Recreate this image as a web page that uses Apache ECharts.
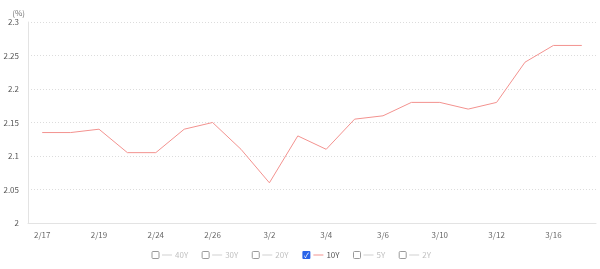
<!DOCTYPE html>
<html>
<head>
<meta charset="utf-8">
<style>html,body{margin:0;padding:0;background:#fff}#c{width:600px;height:269px}</style>
<script src="https://cdn.jsdelivr.net/npm/echarts@6/dist/echarts.min.js"></script>
</head>
<body>
<div id="c"></div>
<script>
const categories = ['2/17','2/18','2/19','2/20','2/24','2/25','2/26','2/27','3/2','3/3','3/4','3/5','3/6','3/9','3/10','3/11','3/12','3/13','3/16','3/17'];
const yield10Y = [2.135,2.135,2.14,2.105,2.105,2.14,2.15,2.11,2.06,2.13,2.11,2.155,2.16,2.18,2.18,2.17,2.18,2.24,2.265,2.265];
const legendNames = ['40Y','30Y','20Y','10Y','5Y','2Y'];
const selectedNames = ['10Y'];
const yTicks = {min: 2, max: 2.3, interval: 0.05};

const FONT = '"Noto Sans CJK JP", "Noto Sans", sans-serif';
const chart = echarts.init(document.getElementById('c'));
const series = legendNames.map(n => ({
  name: n,
  type: 'line',
  data: n === '10Y' ? yield10Y : [],
  symbol: 'none',
  lineStyle: {width: 1, color: '#f3928f'},
  itemStyle: {color: '#f3928f'}
}));
const selected = {};
legendNames.forEach(n => selected[n] = selectedNames.includes(n));

chart.setOption({
  animation: false,
  textStyle: {fontFamily: FONT},
  grid: {left: 28, right: 4, top: 22, bottom: 46, containLabel: false},
  legend: {
    data: legendNames,
    selected: selected,
    icon: 'none',
    itemWidth: 0,
    itemHeight: 8,
    itemGap: 9,
    left: 142,
    top: 246,
    inactiveColor: '#c8c8c8',
    textStyle: {fontSize: 8, color: '#555', fontFamily: FONT,
      rich: {
        box: {width: 7, height: 7, borderColor: '#9a9a9a', borderWidth: 1, borderRadius: 1, padding: 0},
        chk: {width: 8, height: 8, backgroundColor: '#2a64e8', color: '#fff', fontSize: 7, lineHeight: 8, align: 'center', borderRadius: 1},
        ln: {width: 10, height: 1, backgroundColor: '#d0d0d0'},
        lnOn: {width: 10, height: 1, backgroundColor: '#f3928f'},
        sp: {width: 3},
        t: {fontSize: 8, color: '#c0c0c0', fontFamily: FONT},
        on: {fontSize: 8, color: '#555', fontFamily: FONT}
      }
    },
    formatter: function (name) {
      if (selectedNames.includes(name)) {
        return '{chk|✓}{sp|}{lnOn|}{sp|}{on|' + name + '}';
      }
      return '{box|}{sp|}{ln|}{sp|}{t|' + name + '}';
    }
  },
  xAxis: {
    type: 'category',
    data: categories,
    boundaryGap: true,
    axisLine: {lineStyle: {color: '#e3e3e3', width: 1}},
    axisTick: {alignWithLabel: true, interval: 1, length: 3, lineStyle: {color: '#ddd'}},
    axisLabel: {interval: 1, fontSize: 8, color: '#666', margin: 8, fontFamily: FONT}
  },
  yAxis: {
    type: 'value',
    min: yTicks.min,
    max: yTicks.max,
    interval: yTicks.interval,
    name: '(%)',
    nameGap: 5,
    nameTextStyle: {fontSize: 8, color: '#777', align: 'right', padding: [0, 3, 0, 0], fontFamily: FONT},
    axisLine: {show: true, lineStyle: {color: '#e3e3e3', width: 1}},
    axisTick: {show: false},
    axisLabel: {fontSize: 8, color: '#555', margin: 9, fontFamily: FONT},
    splitLine: {lineStyle: {type: [1, 2], color: '#dcdcdc'}}
  },
  series: series
});
</script>
</body>
</html>
